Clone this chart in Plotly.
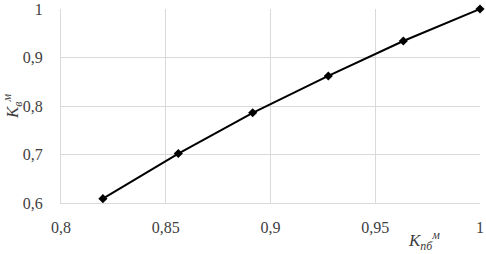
import plotly.graph_objects as go

k_pb = [0.820, 0.856, 0.8915, 0.9276, 0.9634, 1.0]
k_v = [0.609, 0.702, 0.786, 0.862, 0.934, 1.0]

x_ticks = [0.8, 0.85, 0.9, 0.95, 1.0]
y_ticks = [0.6, 0.7, 0.8, 0.9, 1.0]

FAM = "'Liberation Serif', 'Times New Roman', serif"

fig = go.Figure()
fig.add_trace(go.Scatter(
    x=k_pb, y=k_v, mode="lines+markers",
    line=dict(color="black", width=2),
    marker=dict(symbol="diamond", size=7, color="black"),
    cliponaxis=False,
    showlegend=False,
))

font = dict(family=FAM, size=16, color="#404040")
fig.update_layout(
    width=486, height=254,
    margin=dict(l=61, r=6, t=9, b=51, autoexpand=False),
    paper_bgcolor="white", plot_bgcolor="white",
    separators=", ",
    font=font,
    xaxis=dict(range=[0.8, 1.0], tickvals=x_ticks, showgrid=True, gridcolor="#d9d9d9",
               gridwidth=1, zeroline=False, showline=True, linecolor="#d9d9d9",
               ticks="", ticklabelstandoff=10, tickfont=font, automargin=False),
    yaxis=dict(range=[0.6, 1.0], tickvals=y_ticks, showgrid=True, gridcolor="#d9d9d9",
               gridwidth=1, zeroline=False, showline=True, linecolor="#d9d9d9",
               ticks="", ticklabelstandoff=14, tickfont=font, automargin=False,
               title=dict(text="<i>K<sub>в</sub><sup>м</sup></i>", standoff=4,
                          font=dict(family=FAM, size=17, color="#404040"))),
)
fig.add_annotation(
    text="<i>K<sub>пб</sub><sup>м</sup></i>", xref="paper", yref="paper",
    x=(424 - 61) / (486 - 61 - 6), y=0, showarrow=False,
    xanchor="center", yanchor="middle", yshift=-37,
    font=dict(family=FAM, size=17, color="#404040"),
)
fig.write_html("out.html", config={"displayModeBar": False},
               post_script="document.body.style.margin='0';document.body.style.overflow='hidden';")
